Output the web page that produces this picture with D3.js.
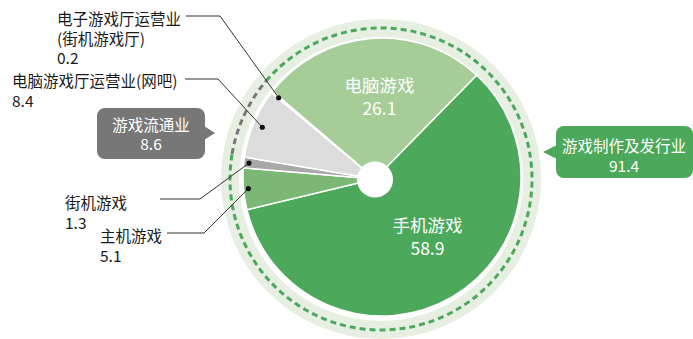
<!DOCTYPE html>
<html>
<head>
<meta charset="utf-8">
<script src="https://cdn.jsdelivr.net/npm/d3@7"></script>
<style>
  html, body { margin: 0; padding: 0; background: #fff; }
  svg { display: block; font-family: "Noto Sans CJK SC", "Noto Sans", sans-serif; }
</style>
</head>
<body>
<svg id="chart" width="693" height="339"></svg>
<script>
// Market segments (share, %)
const categories = ["电脑游戏", "手机游戏", "主机游戏", "街机游戏", "电脑游戏厅运营业(网吧)", "电子游戏厅运营业(街机游戏厅)"];
const values = [26.1, 58.9, 5.1, 1.3, 8.4, 0.2];
const sliceColors = ["#a6cd98", "#4ca85a", "#7cb875", "#a8a8a8", "#dcdcdc", "#ececec"];

// Parent groups shown on the dashed outer ring
const groupNames = ["游戏制作及发行业", "游戏流通业"];
const groupValues = [91.4, 8.6];
const groupColors = ["#4ca85a", "#777777"];

const svg = d3.select("#chart");

const startAngle = -49.5 * Math.PI / 180;
const apex = [375, 179];      // point where the slices meet
const disc = [382, 177];      // centre of the pie's outer circle
const R = 139;
const ringC = [381, 179];

const pie = d3.pie().sort(null).value(d => d).startAngle(startAngle).endAngle(startAngle + 2 * Math.PI);
const slices = pie(values);
const groups = pie(groupValues);

// outer light band
svg.append("path")
  .attr("transform", `translate(${ringC})`)
  .attr("d", d3.arc().innerRadius(142).outerRadius(160).startAngle(0).endAngle(2 * Math.PI)())
  .attr("fill", "#e6efe2");

// dashed group ring
groups.forEach((g, i) => {
  const p = d3.path();
  p.arc(ringC[0], ringC[1], 151, g.startAngle - Math.PI / 2, g.endAngle - Math.PI / 2);
  svg.append("path")
    .attr("d", p.toString())
    .attr("fill", "none")
    .attr("stroke", groupColors[i])
    .attr("stroke-width", 3)
    .attr("stroke-dasharray", "6,4");
});

// slice geometry: rays leave the apex and end on the outer circle
function hit(a) {
  const u = [Math.sin(a), -Math.cos(a)];
  const d = [apex[0] - disc[0], apex[1] - disc[1]];
  const b = d[0] * u[0] + d[1] * u[1];
  const t = -b + Math.sqrt(b * b - (d[0] * d[0] + d[1] * d[1]) + R * R);
  return [apex[0] + t * u[0], apex[1] + t * u[1]];
}
function slicePath(s) {
  const p0 = hit(s.startAngle), p1 = hit(s.endAngle);
  const c0 = Math.atan2(p0[1] - disc[1], p0[0] - disc[0]);
  const c1 = Math.atan2(p1[1] - disc[1], p1[0] - disc[0]);
  let dl = c1 - c0;
  while (dl < 0) dl += 2 * Math.PI;
  const large = dl > Math.PI ? 1 : 0;
  return `M${apex[0]},${apex[1]}L${p0[0]},${p0[1]}A${R},${R} 0 ${large} 1 ${p1[0]},${p1[1]}Z`;
}
function polar(a, r) {
  return [apex[0] + r * Math.sin(a), apex[1] - r * Math.cos(a)];
}

svg.append("g").selectAll("path")
  .data(slices)
  .join("path")
  .attr("d", slicePath)
  .attr("fill", (d, i) => sliceColors[i])
  .attr("stroke", "#fff")
  .attr("stroke-width", 1.5)
  .attr("stroke-linejoin", "round");

// centre hole
svg.append("circle")
  .attr("cx", apex[0]).attr("cy", apex[1] + 0.5).attr("r", 18)
  .attr("fill", "#fff");

// labels inside the two big slices
const inner = [
  { i: 0, r: 82, dx: 8, dy: 0 },
  { i: 1, r: 78, dx: 14, dy: -10 }
];
inner.forEach(o => {
  const s = slices[o.i];
  const m = (s.startAngle + s.endAngle) / 2;
  const [x, y] = polar(m, o.r);
  const t = svg.append("text")
    .attr("fill", "#fff")
    .attr("font-size", 17.5)
    .attr("text-anchor", "middle");
  t.append("tspan").attr("x", x + o.dx).attr("y", y + o.dy - 5).text(categories[o.i]);
  t.append("tspan").attr("x", x + o.dx).attr("y", y + o.dy + 18).text(values[o.i]);
});

// outside labels with leader lines
const outer = [
  { i: 5, lines: ["电子游戏厅运营业", "(街机游戏厅)"], x: 57, y: 18, lx0: 186, lx1: 220, ly: 16, r: 126 },
  { i: 4, lines: ["电脑游戏厅运营业(网吧)"], x: 12, y: 80, lx0: 185, lx1: 218, ly: 79, r: 124 },
  { i: 3, lines: ["街机游戏"], x: 65, y: 202, lx0: 160, lx1: 200, ly: 199, r: 127 },
  { i: 2, lines: ["主机游戏"], x: 100, y: 235, lx0: 167, lx1: 204, ly: 233, r: 127 }
];
outer.forEach(o => {
  const s = slices[o.i];
  const m = (s.startAngle + s.endAngle) / 2;
  const dot = polar(m, o.r);
  svg.append("path")
    .attr("d", `M${o.lx0},${o.ly}H${o.lx1}L${dot[0]},${dot[1]}`)
    .attr("fill", "none")
    .attr("stroke", "#333")
    .attr("stroke-width", 1);
  svg.append("circle").attr("cx", dot[0]).attr("cy", dot[1]).attr("r", 2.6).attr("fill", "#111");
  o.lines.concat([String(values[o.i])]).forEach((line, k) => {
    svg.append("text")
      .attr("fill", "#1a1a1a")
      .attr("font-size", 15.5)
      .attr("dominant-baseline", "central")
      .attr("x", o.x).attr("y", o.y + k * 19.5)
      .text(line);
  });
});

// group callouts
const callouts = [
  { g: 0, x: 556, y: 126, w: 137, h: 52, tip: [543, 152], side: "left", tc: 624, l1: 145, l2: 165 },
  { g: 1, x: 97, y: 108, w: 108, h: 51, tip: [215, 133], side: "right", tc: 151, l1: 124, l2: 143 }
];
callouts.forEach(c => {
  svg.append("rect")
    .attr("x", c.x).attr("y", c.y).attr("width", c.w).attr("height", c.h)
    .attr("rx", 8).attr("fill", groupColors[c.g]);
  const bx = c.side === "left" ? c.x + 1 : c.x + c.w - 1;
  svg.append("path")
    .attr("d", `M${bx},${c.tip[1] - 7}L${c.tip[0]},${c.tip[1]}L${bx},${c.tip[1] + 7}Z`)
    .attr("fill", groupColors[c.g]);
  [groupNames[c.g], String(groupValues[c.g])].forEach((line, k) => {
    svg.append("text")
      .attr("fill", "#fff")
      .attr("font-size", 15.5)
      .attr("text-anchor", "middle")
      .attr("dominant-baseline", "central")
      .attr("x", c.tc).attr("y", k === 0 ? c.l1 : c.l2)
      .text(line);
  });
});
</script>
</body>
</html>
